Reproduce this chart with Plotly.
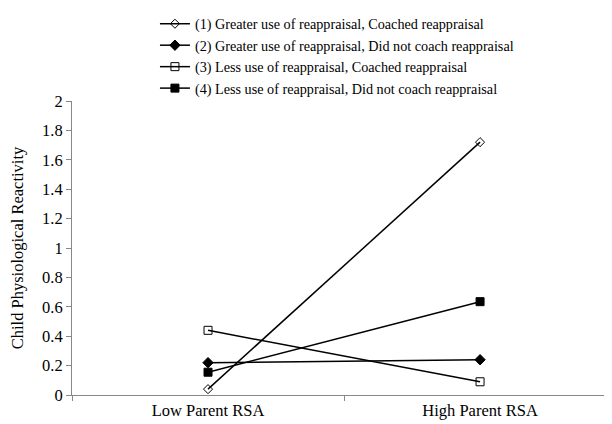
import plotly.graph_objects as go

categories = ["Low Parent RSA", "High Parent RSA"]
series_names = [
    "(1) Greater use of reappraisal, Coached reappraisal",
    "(2) Greater use of reappraisal, Did not coach reappraisal",
    "(3) Less use of reappraisal, Coached reappraisal",
    "(4) Less use of reappraisal, Did not coach reappraisal",
]
s1 = [0.04, 1.72]
s2 = [0.22, 0.24]
s3 = [0.44, 0.09]
s4 = [0.155, 0.635]

symbols = ["diamond-open", "diamond", "square-open", "square"]
sizes = [7, 8, 8, 8]

fig = go.Figure()
for name, vals, sym, sz in zip(series_names, [s1, s2, s3, s4], symbols, sizes):
    fig.add_trace(go.Scatter(
        x=categories, y=vals, mode="lines+markers", name=name,
        line=dict(color="black", width=1.5),
        marker=dict(symbol=sym, size=sz, color="black",
                    line=dict(color="black", width=1)),
    ))

# page body has an 8px margin, so the figure is sized/offset to compensate
fig.update_layout(
    width=604, height=416,
    margin=dict(l=64, r=0, t=90, b=29),
    paper_bgcolor="white", plot_bgcolor="white",
    font=dict(family="Liberation Serif, Times New Roman, serif", size=16.5, color="black"),
    showlegend=True,
    legend=dict(x=0.1536, y=1.318, xanchor="left", yanchor="top",
                font=dict(size=14.2), tracegroupgap=0, itemwidth=30,
                bgcolor="rgba(0,0,0,0)"),
    xaxis=dict(type="category", range=[-0.5, 1.485], showline=True,
               linecolor="#888888", linewidth=1, ticks="outside",
               tickson="boundaries", ticklen=5, tickcolor="#888888",
               showgrid=False, zeroline=False, tickfont=dict(size=16.5),
               automargin=False),
    yaxis=dict(range=[0, 2], dtick=0.2, showline=True, linecolor="#888888",
               linewidth=1, ticks="outside", ticklen=5, tickcolor="#888888",
               showgrid=False, zeroline=False, tickfont=dict(size=16.5),
               title=dict(text="Child Physiological Reactivity", font=dict(size=16.5), standoff=15),
               tickformat="~g", automargin=False),
)

fig.write_html("out.html")
